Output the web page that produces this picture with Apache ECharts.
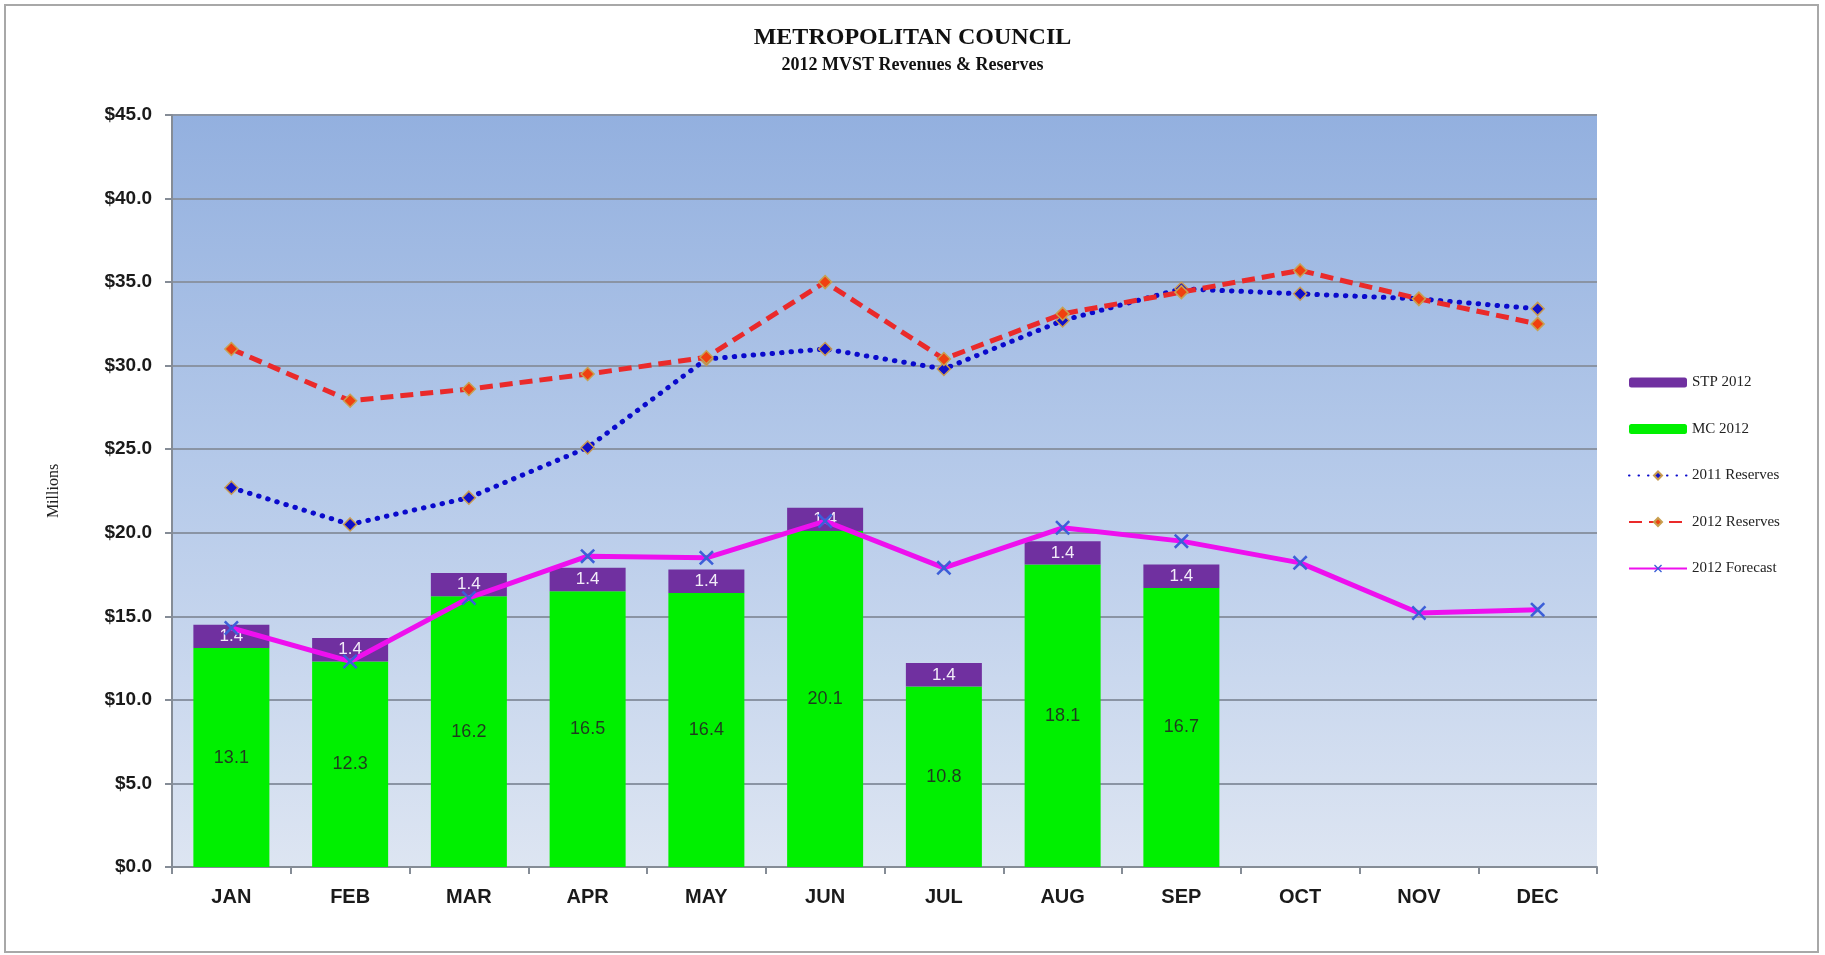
<!DOCTYPE html>
<html>
<head>
<meta charset="utf-8">
<script src="https://cdn.jsdelivr.net/npm/echarts@6/dist/echarts.min.js"></script>
<style>
html,body{margin:0;padding:0;background:#fff;}
#chart{width:1825px;height:955px;}
</style>
</head>
<body>
<div id="chart"></div>
<script>
const months = ['JAN','FEB','MAR','APR','MAY','JUN','JUL','AUG','SEP','OCT','NOV','DEC'];
const mc2012 = [13.1, 12.3, 16.2, 16.5, 16.4, 20.1, 10.8, 18.1, 16.7, null, null, null];
const stp2012 = [1.4, 1.4, 1.4, 1.4, 1.4, 1.4, 1.4, 1.4, 1.4, null, null, null];
const reserves2011 = [22.7, 20.5, 22.1, 25.1, 30.4, 31.0, 29.8, 32.7, 34.6, 34.3, 34.0, 33.4];
const reserves2012 = [31.0, 27.9, 28.6, 29.5, 30.5, 35.0, 30.4, 33.1, 34.4, 35.7, 34.0, 32.5];
const forecast2012 = [14.3, 12.3, 16.1, 18.6, 18.5, 20.7, 17.9, 20.3, 19.5, 18.2, 15.2, 15.4];
const yTicks = {min: 0, max: 45, interval: 5};

const chart = echarts.init(document.getElementById('chart'));
const xPath = 'path://M0,1.2 L1.2,0 L5,3.8 L8.8,0 L10,1.2 L6.2,5 L10,8.8 L8.8,10 L5,6.2 L1.2,10 L0,8.8 L3.8,5 Z';

chart.setOption({
  animation: false,
  backgroundColor: '#ffffff',
  graphic: [{
    type: 'rect', shape: {x: 5, y: 5, width: 1813, height: 947},
    style: {fill: 'none', stroke: '#a8a8a8', lineWidth: 2}, z: -10
  }],
  title: {
    text: 'METROPOLITAN COUNCIL',
    subtext: '2012 MVST Revenues & Reserves',
    left: 'center', top: 21, itemGap: 6,
    textStyle: {fontFamily: 'Liberation Serif', fontWeight: 'bold', fontSize: 24, color: '#111'},
    subtextStyle: {fontFamily: 'Liberation Serif', fontWeight: 'bold', fontSize: 18, color: '#111'}
  },
  legend: {
    orient: 'vertical', left: 1623, top: 370, itemGap: 31.5,
    itemWidth: 58, itemHeight: 10,
    textStyle: {fontFamily: 'Liberation Serif', fontSize: 15, color: '#222'},
    data: ['STP 2012', 'MC 2012', '2011 Reserves', '2012 Reserves', '2012 Forecast']
  },
  grid: {
    left: 172, right: 228, top: 115, bottom: 88, show: true,
    borderColor: '#8f9aaa', borderWidth: 0,
    backgroundColor: {type: 'linear', x: 0, y: 0, x2: 0, y2: 1,
      colorStops: [{offset: 0, color: '#93b0df'}, {offset: 0.5, color: '#b7cbea'}, {offset: 1, color: '#dde5f2'}]}
  },
  xAxis: {
    type: 'category', data: months, boundaryGap: true,
    axisLine: {lineStyle: {color: '#858c96', width: 2}},
    axisTick: {show: true, length: 7, lineStyle: {color: '#858c96', width: 2}},
    axisLabel: {fontFamily: 'Liberation Sans', fontWeight: 'bold', fontSize: 20, color: '#1a1a1a', margin: 20}
  },
  yAxis: {
    type: 'value', min: yTicks.min, max: yTicks.max, interval: yTicks.interval,
    name: 'Millions', nameLocation: 'middle', nameGap: 110,
    nameTextStyle: {fontFamily: 'Liberation Serif', fontSize: 16, color: '#222'},
    axisLine: {show: true, lineStyle: {color: '#858c96', width: 2}},
    axisTick: {show: true, length: 7, lineStyle: {color: '#858c96', width: 2}},
    axisLabel: {fontFamily: 'Liberation Sans', fontWeight: 'bold', fontSize: 19, color: '#1a1a1a', margin: 20,
      formatter: v => '$' + v.toFixed(1)},
    splitLine: {lineStyle: {color: '#8a94a4', width: 2}}
  },
  series: [
    {
      name: 'MC 2012', type: 'bar', stack: 'rev', data: mc2012, barWidth: '64%',
      itemStyle: {color: '#00f000'},
      label: {show: true, position: 'inside', fontFamily: 'Liberation Sans', fontSize: 18, color: '#1f3a1f',
        formatter: p => p.value.toFixed(1)}
    },
    {
      name: 'STP 2012', type: 'bar', stack: 'rev', data: stp2012, barWidth: '64%',
      itemStyle: {color: '#7030a0'},
      label: {show: true, position: 'inside', fontFamily: 'Liberation Sans', fontSize: 17, color: '#f2ecf8',
        formatter: p => p.value.toFixed(1)}
    },
    {
      name: '2011 Reserves', type: 'line', data: reserves2011, z: 5,
      lineStyle: {color: '#0a0acc', width: 5, type: [0.5, 9], cap: 'round'},
      itemStyle: {color: '#1010c8', borderColor: '#c89a50', borderWidth: 1.5},
      symbol: 'diamond', symbolSize: 13
    },
    {
      name: '2012 Reserves', type: 'line', data: reserves2012, z: 6,
      lineStyle: {color: '#ea2a2a', width: 5, type: [13, 7]},
      itemStyle: {color: '#f04010', borderColor: '#c8a050', borderWidth: 1.5},
      symbol: 'diamond', symbolSize: 13
    },
    {
      name: '2012 Forecast', type: 'line', data: forecast2012, z: 7,
      lineStyle: {color: '#ee10ee', width: 5},
      itemStyle: {color: '#3c5fd8'},
      symbol: xPath, symbolSize: 15
    }
  ]
});
</script>
</body>
</html>
